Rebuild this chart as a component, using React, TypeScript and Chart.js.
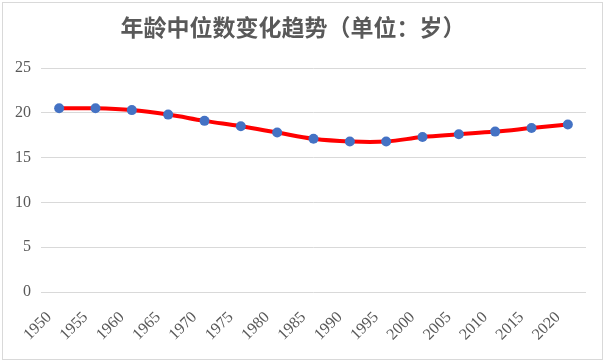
import React, { useEffect, useRef } from "react";
import { Chart, registerables } from "chart.js";

Chart.register(...registerables);

const years = ["1950", "1955", "1960", "1965", "1970", "1975", "1980", "1985", "1990", "1995", "2000", "2005", "2010", "2015", "2020"];
const medianAge = [20.5, 20.5, 20.3, 19.8, 19.1, 18.5, 17.8, 17.1, 16.8, 16.8, 17.3, 17.6, 17.9, 18.3, 18.7];
const titleText = "年龄中位数变化趋势（单位：岁）";
const yMin = 0;
const yMax = 25;
const yStep = 5;

const borderPlugin = {
  id: "frameBorder",
  beforeDraw(chart: any) {
    const ctx = chart.ctx;
    ctx.save();
    ctx.fillStyle = "#ffffff";
    ctx.fillRect(0, 0, chart.width, chart.height);
    ctx.strokeStyle = "#d9d9d9";
    ctx.lineWidth = 1;
    ctx.strokeRect(2.5, 2.5, chart.width - 5, chart.height - 5);
    ctx.restore();
  },
};

export default function App() {
  const ref = useRef<HTMLCanvasElement | null>(null);
  useEffect(() => {
    if (!ref.current) return;
    const tickFont = { family: '"Liberation Serif", "Times New Roman", "DejaVu Serif", serif', size: 16 };
    const chart = new Chart(ref.current, {
      type: "line",
      data: {
        labels: years,
        datasets: [
          {
            data: medianAge,
            borderColor: "#ff0000",
            borderWidth: 4,
            tension: 0.4,
            cubicInterpolationMode: "default",
            pointRadius: 5,
            pointBackgroundColor: "#4472c4",
            pointBorderWidth: 0,
            pointBorderColor: "#4472c4",
            fill: false,
          },
        ],
      },
      options: {
        animation: false,
        responsive: false,
        maintainAspectRatio: false,
        layout: { padding: { left: 0, right: 19, top: 0, bottom: 0 } },
        plugins: {
          legend: { display: false },
          tooltip: { enabled: false },
          title: {
            display: true,
            text: titleText,
            color: "#595959",
            font: { family: '"Noto Sans CJK SC", sans-serif', size: 23, weight: "bold", lineHeight: 1.2 },
            padding: { top: 13, bottom: 27.4 },
          },
        },
        scales: {
          x: {
            type: "category",
            offset: true,
            grid: { display: false, drawTicks: false },
            border: { display: false },
            ticks: {
              color: "#595959",
              font: tickFont,
              maxRotation: 45,
              minRotation: 45,
              autoSkip: false,
              padding: 16,
              labelOffset: -10,
            },
            afterFit(scale: any) {
              scale.height = 70;
            },
          },
          y: {
            min: yMin,
            max: yMax,
            grid: { color: "#d9d9d9", lineWidth: 1, drawTicks: false },
            border: { display: false },
            ticks: {
              stepSize: yStep,
              color: "#595959",
              font: tickFont,
              padding: 10,
            },
            afterFit(scale: any) {
              scale.width = 41;
            },
          },
        },
      },
      plugins: [borderPlugin],
    } as any);
    return () => chart.destroy();
  }, []);
  return (
    <div style={{ position: "absolute", left: 0, top: 0, width: 605, height: 362 }}>
      <canvas ref={ref} width={605} height={362} style={{ display: "block", width: 605, height: 362 }} />
    </div>
  );
}
